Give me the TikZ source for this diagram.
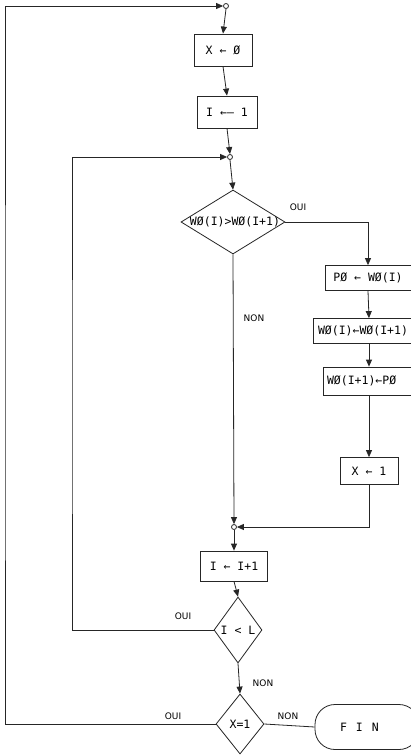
\documentclass[tikz,border=0pt]{standalone}
\usepackage{fontspec}
\setmonofont{DejaVu Sans Mono}
\setsansfont{DejaVu Sans}
\usetikzlibrary{shapes.geometric,arrows.meta}
\begin{document}
\begin{tikzpicture}[x=1pt,y=-1pt,
  line width=0.8pt, draw=black!85,
  arr/.style={-{Triangle[length=7pt,width=6pt]}},
  box/.style={draw, rectangle, inner sep=0pt, font=\ttfamily\fontsize{11.5}{13}\selectfont},
  dia/.style={draw, diamond, inner sep=0pt, font=\ttfamily\fontsize{11.5}{13}\selectfont},
  junc/.style={draw, circle, fill=white, inner sep=0pt, minimum size=5pt},
  lab/.style={font=\sffamily\fontsize{9}{10}\selectfont, inner sep=1pt}]
\clip (0,0) rectangle (411,755);
\fill[white] (0,0) rectangle (411,755);
% junctions
\node[junc] (c0) at (226,6) {};
\node[junc] (c1) at (230,157) {};
\node[junc] (c2) at (234,527) {};
% boxes
\node[box, minimum width=58pt, minimum height=32pt] (b1) at (223,50) {X ← Ø};
\node[box, minimum width=60pt, minimum height=32pt] (b2) at (227,112) {I ←— 1};
\node[dia, minimum width=104pt, minimum height=64pt] (d1) at (233,222) {\makebox[0pt]{\hspace*{4pt}WØ(I)>WØ(I+1)}};
\node[box, minimum width=86pt, minimum height=25pt] (p) at (368,278) {PØ ← WØ(I)};
\node[box, minimum width=112pt, minimum height=25pt] (w1) at (369,331) {\makebox[104pt][l]{\hspace*{1pt}WØ(I)←WØ(I+1)}};
\node[box, minimum width=92pt, minimum height=28pt] (w2) at (369,381) {\makebox[84pt][l]{WØ(I+1)←PØ}};
\node[box, minimum width=58pt, minimum height=27pt] (x1) at (369,471) {X ← 1};
\node[box, minimum width=67pt, minimum height=30pt] (ii) at (234,566) {I ← I+1};
\node[dia, minimum width=48pt, minimum height=66pt] (d2) at (238,630) {\makebox[0pt]{I < L}};
\node[dia, minimum width=48pt, minimum height=60pt] (d3) at (240,724) {\makebox[0pt]{X=1}};
\node[box, rounded corners=20pt, minimum width=104pt, minimum height=45pt] (fin) at (367,727) {\makebox[88pt][l]{\hspace*{17pt}F\hspace{9pt}I\hspace{9pt}N}};
% corner coordinates
\coordinate (lx) at (5,400);
\coordinate (ly) at (72,400);
% connectors
\draw[arr] (d3.west) -| (lx) |- (c0.west);
\draw[arr] (c0.south) -- (b1.north);
\draw[arr] (b1.south) -- (b2.north);
\draw[arr] (b2.south) -- (c1.north);
\draw[arr] (d2.west) -| (ly) |- (c1.west);
\draw[arr] (c1.south) -- (d1.north);
\draw[arr] (d1.east) -| (p.north);
\draw[arr] (p.south) -- (w1.north);
\draw[arr] (w1.south) -- (w2.north);
\draw[arr] (w2.south) -- (x1.north);
\draw[arr] (x1.south) |- (c2.east);
\draw[arr] (d1.south) -- (c2.north);
\draw[arr] (c2.south) -- (ii.north);
\draw[arr] (ii.south) -- (d2.north);
\draw[arr] (d2.south) -- (d3.north);
\draw (d3.east) -- (fin.west);
% labels
\node[lab] (l1) at (298,207) {OUI};
\node[lab] (l2) at (254,318) {NON};
\node[lab] (l3) at (183,616) {OUI};
\node[lab] (l4) at (263,683) {NON};
\node[lab] (l5) at (173,716) {OUI};
\node[lab] (l6) at (288,716) {NON};
\end{tikzpicture}
\end{document}
